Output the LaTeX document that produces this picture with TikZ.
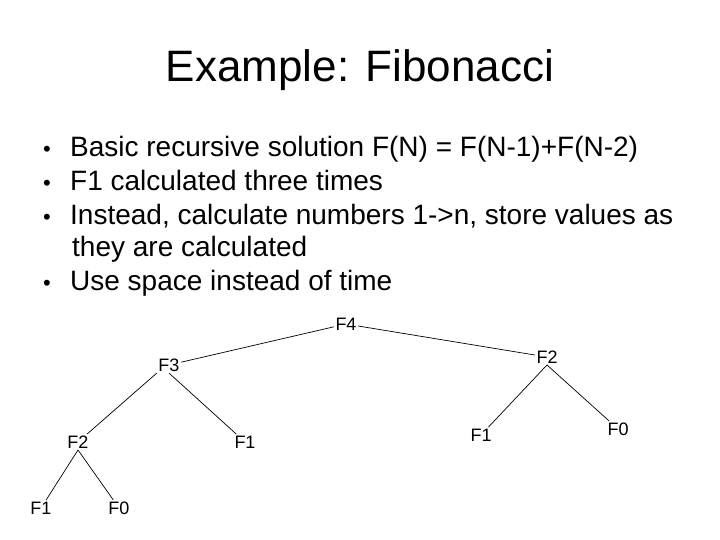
\documentclass[tikz,border=0pt]{standalone}
\usepackage{fontspec}
\setmainfont{Liberation Sans}
\begin{document}
\begin{tikzpicture}[x=1pt,y=-1pt,
  titletext/.style={font=\fontsize{44}{50}\selectfont, inner sep=0pt, anchor=base},
  bullettext/.style={font=\fontsize{28}{32}\selectfont, inner sep=0pt, anchor=base west},
  treelabel/.style={font=\fontsize{18}{20}\selectfont, inner sep=1.5pt},
  treeedge/.style={draw=black, line width=0.7pt}]
\useasboundingbox[fill=white] (0,0) rectangle (720,540);

\node[titletext] (title) at (360,82) {Example: Fibonacci};

\node[bullettext] (b1) at (43,157) {\fontsize{22}{24}\selectfont•};
\node[bullettext] (t1) at (70,157) {Basic recursive solution F(N) = F(N-1)+F(N-2)};
\node[bullettext] (b2) at (43,191) {\fontsize{22}{24}\selectfont•};
\node[bullettext] (t2) at (70,191) {F1 calculated three times};
\node[bullettext] (b3) at (43,225) {\fontsize{22}{24}\selectfont•};
\node[bullettext] (t3) at (70,225) {Instead, calculate numbers 1->n, store values as};
\node[bullettext] (t4) at (72,256) {they are calculated};
\node[bullettext] (b5) at (43,290) {\fontsize{22}{24}\selectfont•};
\node[bullettext] (t5) at (70,290) {Use space instead of time};

\node[treelabel] (f4) at (346,324) {F4};
\node[treelabel] (f3) at (169,365) {F3};
\node[treelabel] (f2r) at (547,357) {F2};
\node[treelabel] (f2l) at (78,442) {F2};
\node[treelabel] (f1m) at (245,442) {F1};
\node[treelabel] (f1r) at (481,435) {F1};
\node[treelabel] (f0r) at (618,429) {F0};
\node[treelabel] (f1ll) at (41,508) {F1};
\node[treelabel] (f0l) at (119,508) {F0};

\draw[treeedge] (f3) -- (f4);
\draw[treeedge] (f4) -- (f2r);
\draw[treeedge] (f3.south west) -- (f2l);
\draw[treeedge] (f3.south) -- (f1m);
\draw[treeedge] (f2l.south) -- (f1ll);
\draw[treeedge] (f2l.south) -- (f0l);
\draw[treeedge] (f2r.south) -- (f1r);
\draw[treeedge] (f2r.south) -- (f0r);
\end{tikzpicture}
\end{document}
